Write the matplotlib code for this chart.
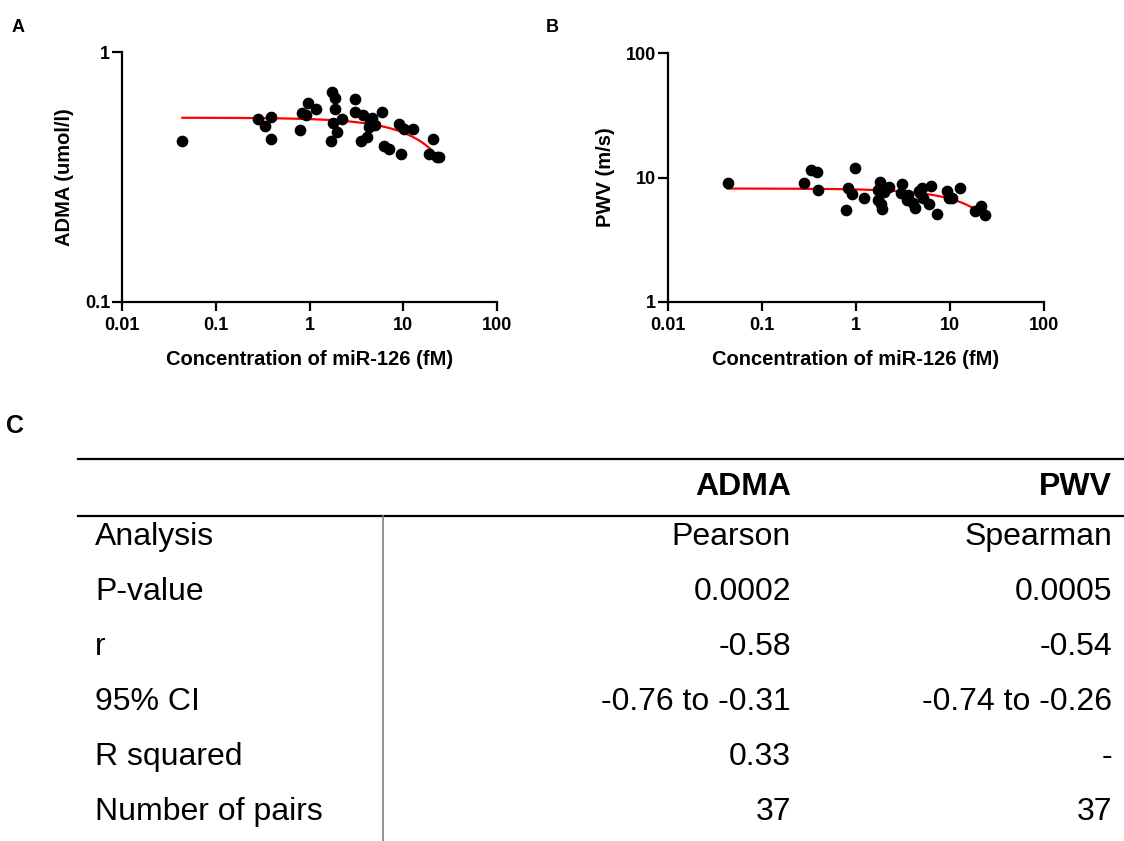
import matplotlib
matplotlib.use("Agg")
import matplotlib.pyplot as plt
from matplotlib.ticker import FixedLocator, FixedFormatter, NullLocator
import numpy as np

plt.rcParams['font.family'] = ['Liberation Sans', 'DejaVu Sans']

# --- data ---
# panel A: miR-126 (fM) vs ADMA (umol/l)
mir_a = [0.044, 0.283, 0.339, 0.39, 0.393, 0.80, 0.83, 0.925, 0.955, 1.18,
         1.74, 1.88, 1.88, 1.78, 1.71, 1.96, 2.22, 3.03, 3.03, 3.56,
         3.72, 4.1, 4.45, 4.65, 5.03, 4.27, 5.93, 6.17, 6.98, 9.08,
         9.46, 10.3, 12.7, 18.6, 20.7, 22.9, 24.3]
adma = [0.44, 0.54, 0.507, 0.548, 0.45, 0.489, 0.569, 0.561, 0.628, 0.59,
        0.689, 0.654, 0.59, 0.519, 0.441, 0.48, 0.54, 0.65, 0.573, 0.441,
        0.561, 0.459, 0.527, 0.544, 0.511, 0.503, 0.578, 0.421, 0.408, 0.515,
        0.391, 0.491, 0.491, 0.391, 0.449, 0.381, 0.379]
fit_a = (0.546, -0.0070)      # intercept, slope of linear fit
fit_a_range = (0.044, 22.0)

# panel B: miR-126 (fM) vs PWV (m/s)
mir_b = [0.043, 0.283, 0.336, 0.385, 0.39, 0.82, 0.78, 0.91, 0.97, 1.21,
         1.80, 1.72, 1.73, 1.85, 1.87, 1.99, 2.26, 3.05, 3.0, 3.5,
         3.6, 4.2, 4.8, 4.63, 5.2, 5.0, 4.07, 6.0, 6.3, 7.3,
         9.2, 9.8, 10.4, 12.8, 18.6, 21.2, 23.8]
pwv = [8.96, 8.96, 11.5, 11.1, 8.0, 8.2, 5.5, 7.4, 12.0, 6.8,
       9.2, 8.0, 6.6, 6.1, 5.6, 7.6, 8.45, 8.9, 7.45, 6.6,
       7.25, 5.7, 7.47, 7.77, 6.8, 8.3, 6.2, 6.1, 8.5, 5.05,
       7.8, 6.8, 6.9, 8.3, 5.4, 5.85, 5.0]
fit_b = (8.16, -0.141)
fit_b_range = (0.043, 20.0)

x_ticks = [0.01, 0.1, 1, 10, 100]
x_ticklabels = ['0.01', '0.1', '1', '10', '100']

# panel C: table
col_headers = ['ADMA', 'PWV']
row_labels = ['Analysis', 'P-value', 'r', '95% CI', 'R squared', 'Number of pairs']
adma_stats = ['Pearson', '0.0002', '-0.58', '-0.76 to -0.31', '0.33', '37']
pwv_stats = ['Spearman', '0.0005', '-0.54', '-0.74 to -0.26', '-', '37']

W, H = 1124, 841
fig = plt.figure(figsize=(W / 100, H / 100), dpi=100)


def scatter_panel(rect, xs, ys, fit, fit_range, ylim, yticks, yticklabels, ylabel):
    ax = fig.add_axes(rect)
    ax.set_xscale('log')
    ax.set_yscale('log')
    xf = np.logspace(np.log10(fit_range[0]), np.log10(fit_range[1]), 200)
    ax.plot(xf, fit[0] + fit[1] * xf, color='#ff0000', lw=1.6, zorder=2)
    ax.plot(xs, ys, 'o', color='black', ms=7.4, mec='black', zorder=3, clip_on=False)
    ax.set_xlim(0.01, 100)
    ax.set_ylim(*ylim)
    ax.xaxis.set_major_locator(FixedLocator(x_ticks))
    ax.xaxis.set_major_formatter(FixedFormatter(x_ticklabels))
    ax.xaxis.set_minor_locator(NullLocator())
    ax.yaxis.set_major_locator(FixedLocator(yticks))
    ax.yaxis.set_major_formatter(FixedFormatter(yticklabels))
    ax.yaxis.set_minor_locator(NullLocator())
    for s in ['top', 'right']:
        ax.spines[s].set_visible(False)
    for s in ['left', 'bottom']:
        ax.spines[s].set_linewidth(1.6)
    ax.tick_params(axis='x', length=6.5, width=1.6, labelsize=13, pad=4.5)
    ax.tick_params(axis='y', length=7, width=1.6, labelsize=13, pad=1.5)
    for lab in ax.get_xticklabels() + ax.get_yticklabels():
        lab.set_fontweight('bold')
    ax.set_xlabel('Concentration of miR-126 (fM)', fontsize=14.5, fontweight='bold', labelpad=11)
    ax.set_ylabel(ylabel, fontsize=14.5, fontweight='bold', labelpad=8)
    return ax


def frect(left, top, right, bottom):
    return [left / W, 1 - bottom / H, (right - left) / W, (bottom - top) / H]


scatter_panel(frect(122, 52, 497, 302), mir_a, adma, fit_a, fit_a_range,
              (0.1, 1), [0.1, 1], ['0.1', '1'], 'ADMA (umol/l)')
scatter_panel(frect(668, 53, 1044, 302), mir_b, pwv, fit_b, fit_b_range,
              (1, 100), [1, 10, 100], ['1', '10', '100'], 'PWV (m/s)')

# overlay in pixel coordinates for letters and the table
ov = fig.add_axes([0, 0, 1, 1])
ov.set_xlim(0, W)
ov.set_ylim(H, 0)
ov.axis('off')

ov.text(12, 27, 'A', fontsize=13, fontweight='bold', va='center', ha='left')
ov.text(546, 27, 'B', fontsize=13, fontweight='bold', va='center', ha='left')
ov.text(6, 426, 'C', fontsize=18, fontweight='bold', va='center', ha='left')

ov.plot([78, W], [459, 459], color='black', lw=1.6)
ov.plot([78, W], [516, 516], color='black', lw=1.6)
ov.plot([383, 383], [516, H], color='#808080', lw=1.2)

col_x = [791, 1112]
ov.text(col_x[0], 487, col_headers[0], fontsize=23, fontweight='bold', ha='right', va='center')
ov.text(col_x[1], 487, col_headers[1], fontsize=23, fontweight='bold', ha='right', va='center')

row_y0, row_dy = 537, 55
for i, lab in enumerate(row_labels):
    y = row_y0 + i * row_dy
    ov.text(95, y, lab, fontsize=23, ha='left', va='center')
    ov.text(col_x[0], y, adma_stats[i], fontsize=23, ha='right', va='center')
    ov.text(col_x[1], y, pwv_stats[i], fontsize=23, ha='right', va='center')

fig.savefig('out.png', dpi=100)
